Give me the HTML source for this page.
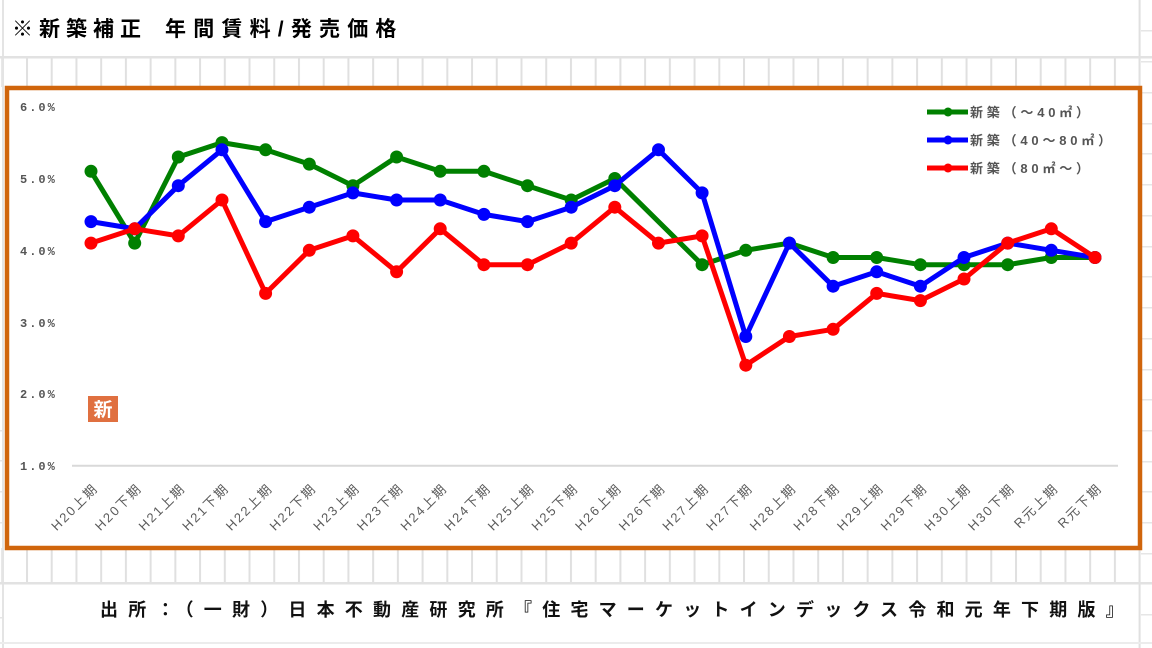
<!DOCTYPE html>
<html><head><meta charset="utf-8">
<style>
html,body{margin:0;padding:0;background:#fff;}
svg{display:block;}
.cj{font-family:"Liberation Sans","Noto Sans CJK JP",sans-serif;}
</style></head>
<body>
<svg width="1152" height="648" viewBox="0 0 1152 648" xmlns="http://www.w3.org/2000/svg">
<defs>
<pattern id="vg" x="26" y="0" width="24.725" height="10" patternUnits="userSpaceOnUse">
<rect x="0" y="0" width="2" height="10" fill="#e0e0e0"/>
</pattern>
</defs>
<rect width="1152" height="648" fill="#fff"/>
<!-- spreadsheet grid -->
<rect x="0" y="57" width="1140" height="30" fill="url(#vg)"/>
<rect x="0" y="548" width="1140" height="35" fill="url(#vg)"/>
<rect x="2" y="0" width="2" height="648" fill="#e4e4e4"/>
<rect x="1138.6" y="0" width="2" height="648" fill="#e0e0e0"/>
<rect x="0" y="56" width="1152" height="2.5" fill="#e2e2e2"/>
<rect x="0" y="582" width="1152" height="2.5" fill="#e2e2e2"/>
<rect x="0" y="642" width="1152" height="2" fill="#ececec"/>
<g fill="#e6e6e6">
<rect x="1141" y="30" width="11" height="1.5"/><rect x="1141" y="61" width="11" height="1.5"/>
<rect x="1141" y="92" width="11" height="1.5"/><rect x="1141" y="123" width="11" height="1.5"/>
<rect x="1141" y="153" width="11" height="1.5"/><rect x="1141" y="184" width="11" height="1.5"/>
<rect x="1141" y="215" width="11" height="1.5"/><rect x="1141" y="246" width="11" height="1.5"/>
<rect x="1141" y="276" width="11" height="1.5"/><rect x="1141" y="307" width="11" height="1.5"/>
<rect x="1141" y="338" width="11" height="1.5"/><rect x="1141" y="369" width="11" height="1.5"/>
<rect x="1141" y="399" width="11" height="1.5"/><rect x="1141" y="430" width="11" height="1.5"/>
<rect x="1141" y="461" width="11" height="1.5"/><rect x="1141" y="491" width="11" height="1.5"/>
<rect x="1141" y="522" width="11" height="1.5"/><rect x="1141" y="553" width="11" height="1.5"/>
<rect x="1141" y="614" width="11" height="1.5"/>
<rect x="0" y="430" width="2" height="1.5"/><rect x="0" y="460" width="2" height="1.5"/>
<rect x="0" y="491" width="2" height="1.5"/><rect x="0" y="522" width="2" height="1.5"/>
<rect x="0" y="617" width="2" height="1.5"/>
</g>

<!-- title -->
<text class="cj" x="12" y="36" font-size="21" font-weight="bold" letter-spacing="6" fill="#000">※新築補正</text>
<text class="cj" x="165" y="36" font-size="21" font-weight="bold" letter-spacing="7.2" fill="#000">年間賃料/発売価格</text>

<!-- chart frame -->
<rect x="7" y="88" width="1133" height="460" fill="#fff" stroke="#D0650C" stroke-width="4.5"/>

<!-- axis line -->
<line x1="72" y1="465.7" x2="1118" y2="465.7" stroke="#d9d9d9" stroke-width="2"/>

<!-- y labels -->
<g font-family="'Liberation Mono',monospace" font-size="12" font-weight="bold" fill="#555" letter-spacing="2">
<text x="20" y="111">6.0%</text>
<text x="20" y="183">5.0%</text>
<text x="20" y="255">4.0%</text>
<text x="20" y="327">3.0%</text>
<text x="20" y="398">2.0%</text>
<text x="20" y="470">1.0%</text>
</g>

<!-- badge -->
<rect x="88" y="396" width="30" height="26" fill="#E07040"/>
<text class="cj" x="103" y="416" font-size="19" font-weight="bold" fill="#fff" text-anchor="middle">新</text>

<!-- x labels -->
<g class="cj" font-size="13" fill="#5a5a5a" letter-spacing="2" text-anchor="end">
<text transform="translate(99,489) rotate(-45)">H20上期</text>
<text transform="translate(142.7,489) rotate(-45)">H20下期</text>
<text transform="translate(186.3,489) rotate(-45)">H21上期</text>
<text transform="translate(230,489) rotate(-45)">H21下期</text>
<text transform="translate(273.6,489) rotate(-45)">H22上期</text>
<text transform="translate(317.3,489) rotate(-45)">H22下期</text>
<text transform="translate(360.9,489) rotate(-45)">H23上期</text>
<text transform="translate(404.6,489) rotate(-45)">H23下期</text>
<text transform="translate(448.2,489) rotate(-45)">H24上期</text>
<text transform="translate(491.9,489) rotate(-45)">H24下期</text>
<text transform="translate(535.5,489) rotate(-45)">H25上期</text>
<text transform="translate(579.2,489) rotate(-45)">H25下期</text>
<text transform="translate(622.8,489) rotate(-45)">H26上期</text>
<text transform="translate(666.5,489) rotate(-45)">H26下期</text>
<text transform="translate(710.1,489) rotate(-45)">H27上期</text>
<text transform="translate(753.8,489) rotate(-45)">H27下期</text>
<text transform="translate(797.4,489) rotate(-45)">H28上期</text>
<text transform="translate(841.1,489) rotate(-45)">H28下期</text>
<text transform="translate(884.7,489) rotate(-45)">H29上期</text>
<text transform="translate(928.4,489) rotate(-45)">H29下期</text>
<text transform="translate(972,489) rotate(-45)">H30上期</text>
<text transform="translate(1015.7,489) rotate(-45)">H30下期</text>
<text transform="translate(1059.3,489) rotate(-45)">R元上期</text>
<text transform="translate(1103,489) rotate(-45)">R元下期</text>
</g>

<!-- green series -->
<polyline fill="none" stroke="#008000" stroke-width="5" stroke-linejoin="round" points="91,171.3 134.7,243.1 178.3,157 222,142.6 265.6,149.8 309.3,164.1 352.9,185.7 396.6,157 440.2,171.3 483.9,171.3 527.5,185.7 571.2,200 614.8,178.5 702.1,264.7 745.8,250.3 789.4,243.1 833.1,257.5 876.7,257.5 920.4,264.7 964,264.7 1007.7,264.7 1051.3,257.5 1095,257.5"/>
<g fill="#008000">
<circle cx="91" cy="171.3" r="6.5"/><circle cx="134.7" cy="243.1" r="6.5"/><circle cx="178.3" cy="157" r="6.5"/><circle cx="222" cy="142.6" r="6.5"/><circle cx="265.6" cy="149.8" r="6.5"/><circle cx="309.3" cy="164.1" r="6.5"/><circle cx="352.9" cy="185.7" r="6.5"/><circle cx="396.6" cy="157" r="6.5"/><circle cx="440.2" cy="171.3" r="6.5"/><circle cx="483.9" cy="171.3" r="6.5"/><circle cx="527.5" cy="185.7" r="6.5"/><circle cx="571.2" cy="200" r="6.5"/><circle cx="614.8" cy="178.5" r="6.5"/><circle cx="702.1" cy="264.7" r="6.5"/><circle cx="745.8" cy="250.3" r="6.5"/><circle cx="789.4" cy="243.1" r="6.5"/><circle cx="833.1" cy="257.5" r="6.5"/><circle cx="876.7" cy="257.5" r="6.5"/><circle cx="920.4" cy="264.7" r="6.5"/><circle cx="964" cy="264.7" r="6.5"/><circle cx="1007.7" cy="264.7" r="6.5"/><circle cx="1051.3" cy="257.5" r="6.5"/><circle cx="1095" cy="257.5" r="6.5"/>
</g>

<!-- blue series -->
<polyline fill="none" stroke="#0000FF" stroke-width="5" stroke-linejoin="round" points="91,221.6 134.7,228.8 178.3,185.7 222,149.8 265.6,221.6 309.3,207.2 352.9,192.9 396.6,200 440.2,200 483.9,214.4 527.5,221.6 571.2,207.2 614.8,185.7 658.5,149.8 702.1,192.9 745.8,336.5 789.4,243.1 833.1,286.2 876.7,271.8 920.4,286.2 964,257.5 1007.7,243.1 1051.3,250.3 1095,257.5"/>
<g fill="#0000FF">
<circle cx="91" cy="221.6" r="6.5"/><circle cx="134.7" cy="228.8" r="6.5"/><circle cx="178.3" cy="185.7" r="6.5"/><circle cx="222" cy="149.8" r="6.5"/><circle cx="265.6" cy="221.6" r="6.5"/><circle cx="309.3" cy="207.2" r="6.5"/><circle cx="352.9" cy="192.9" r="6.5"/><circle cx="396.6" cy="200" r="6.5"/><circle cx="440.2" cy="200" r="6.5"/><circle cx="483.9" cy="214.4" r="6.5"/><circle cx="527.5" cy="221.6" r="6.5"/><circle cx="571.2" cy="207.2" r="6.5"/><circle cx="614.8" cy="185.7" r="6.5"/><circle cx="658.5" cy="149.8" r="6.5"/><circle cx="702.1" cy="192.9" r="6.5"/><circle cx="745.8" cy="336.5" r="6.5"/><circle cx="789.4" cy="243.1" r="6.5"/><circle cx="833.1" cy="286.2" r="6.5"/><circle cx="876.7" cy="271.8" r="6.5"/><circle cx="920.4" cy="286.2" r="6.5"/><circle cx="964" cy="257.5" r="6.5"/><circle cx="1007.7" cy="243.1" r="6.5"/><circle cx="1051.3" cy="250.3" r="6.5"/><circle cx="1095" cy="257.5" r="6.5"/>
</g>

<!-- red series -->
<polyline fill="none" stroke="#FF0000" stroke-width="5" stroke-linejoin="round" points="91,243.1 134.7,228.8 178.3,235.9 222,200 265.6,293.4 309.3,250.3 352.9,235.9 396.6,271.8 440.2,228.8 483.9,264.7 527.5,264.7 571.2,243.1 614.8,207.2 658.5,243.1 702.1,235.9 745.8,365.2 789.4,336.5 833.1,329.3 876.7,293.4 920.4,300.6 964,279 1007.7,243.1 1051.3,228.8 1095,257.5"/>
<g fill="#FF0000">
<circle cx="91" cy="243.1" r="6.5"/><circle cx="134.7" cy="228.8" r="6.5"/><circle cx="178.3" cy="235.9" r="6.5"/><circle cx="222" cy="200" r="6.5"/><circle cx="265.6" cy="293.4" r="6.5"/><circle cx="309.3" cy="250.3" r="6.5"/><circle cx="352.9" cy="235.9" r="6.5"/><circle cx="396.6" cy="271.8" r="6.5"/><circle cx="440.2" cy="228.8" r="6.5"/><circle cx="483.9" cy="264.7" r="6.5"/><circle cx="527.5" cy="264.7" r="6.5"/><circle cx="571.2" cy="243.1" r="6.5"/><circle cx="614.8" cy="207.2" r="6.5"/><circle cx="658.5" cy="243.1" r="6.5"/><circle cx="702.1" cy="235.9" r="6.5"/><circle cx="745.8" cy="365.2" r="6.5"/><circle cx="789.4" cy="336.5" r="6.5"/><circle cx="833.1" cy="329.3" r="6.5"/><circle cx="876.7" cy="293.4" r="6.5"/><circle cx="920.4" cy="300.6" r="6.5"/><circle cx="964" cy="279" r="6.5"/><circle cx="1007.7" cy="243.1" r="6.5"/><circle cx="1051.3" cy="228.8" r="6.5"/><circle cx="1095" cy="257.5" r="6.5"/>
</g>

<!-- legend -->
<line x1="927" y1="112" x2="968" y2="112" stroke="#008000" stroke-width="5"/>
<circle cx="948" cy="112" r="4.5" fill="#008000"/>
<line x1="927" y1="140" x2="968" y2="140" stroke="#0000FF" stroke-width="5"/>
<circle cx="948" cy="140" r="4.5" fill="#0000FF"/>
<line x1="927" y1="168" x2="968" y2="168" stroke="#FF0000" stroke-width="5"/>
<circle cx="948" cy="168" r="4.5" fill="#FF0000"/>
<g class="cj" font-size="13" fill="#555" font-weight="bold" letter-spacing="3.8">
<text x="970" y="117">新築（～40㎡）</text>
<text x="970" y="145">新築（40～80㎡）</text>
<text x="970" y="173">新築（80㎡～）</text>
</g>

<!-- source -->
<text class="cj" x="100" y="616" font-size="18" font-weight="bold" letter-spacing="10.2" fill="#111">出所：（一財）日本不動産研究所『住宅マーケットインデックス令和元年下期版』</text>
</svg>
</body></html>
